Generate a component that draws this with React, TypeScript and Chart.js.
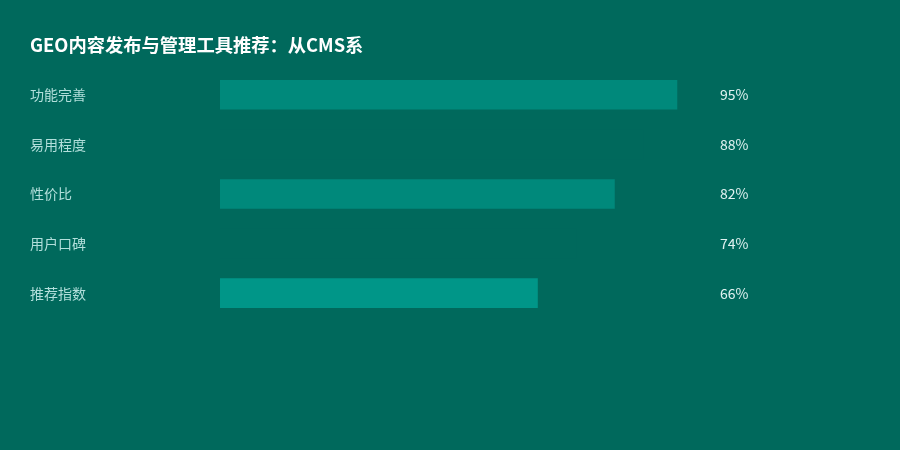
import React, { useEffect, useRef } from "react";
import { Chart, registerables } from "chart.js";

Chart.register(...registerables);

const titleText = "GEO内容发布与管理工具推荐：从CMS系";
const categories = ["功能完善", "易用程度", "性价比", "用户口碑", "推荐指数"];
const values = [95, 88, 82, 74, 66];
const barColors = ["#00897B", "#00695C", "#00897B", "#00695C", "#009688"];
const BG = "#00695C";
const FONT = "'Noto Sans CJK SC', 'Noto Sans', sans-serif";

const valueLabelPlugin = {
  id: "valueLabels",
  afterDatasetsDraw(chart: any) {
    const ctx = chart.ctx;
    const meta = chart.getDatasetMeta(0);
    ctx.save();
    ctx.font = `14px ${FONT}`;
    ctx.fillStyle = "#E0F2F1";
    ctx.textAlign = "left";
    ctx.textBaseline = "middle";
    meta.data.forEach((el: any, i: number) => {
      ctx.fillText(`${values[i]}%`, chart.chartArea.right + 19, el.y);
    });
    ctx.restore();
  },
};

export default function App() {
  const ref = useRef<HTMLCanvasElement>(null);
  useEffect(() => {
    if (!ref.current) return;
    const chart = new Chart(ref.current, {
      type: "bar",
      data: {
        labels: categories,
        datasets: [
          {
            data: values,
            backgroundColor: barColors,
            borderWidth: 0,
            barThickness: 29,
          },
        ],
      },
      options: {
        indexAxis: "y",
        animation: false,
        responsive: false,
        maintainAspectRatio: false,
        layout: { padding: { left: 30, right: 199, top: 0, bottom: 132 } },
        plugins: {
          legend: { display: false },
          tooltip: { enabled: false },
          title: {
            display: true,
            text: titleText,
            align: "start",
            color: "#FFFFFF",
            font: { family: FONT, size: 18.3, weight: "bold" },
            padding: { top: 34, bottom: 14 },
          },
        },
        scales: {
          x: {
            display: false,
            min: 0,
            max: 100,
          },
          y: {
            display: true,
            grid: { display: false },
            border: { display: false },
            ticks: {
              color: "#B2DFDB",
              crossAlign: "far",
              font: { family: FONT, size: 14 },
            },
            afterFit: (scale: any) => {
              scale.width = 190;
            },
          },
        },
      },
      plugins: [valueLabelPlugin],
    });
    return () => chart.destroy();
  }, []);
  return (
    <div
      style={{
        position: "fixed",
        left: 0,
        top: 0,
        width: 900,
        height: 450,
        background: BG,
      }}
    >
      <canvas ref={ref} width={900} height={450} style={{ width: 900, height: 450, display: "block" }} />
    </div>
  );
}
